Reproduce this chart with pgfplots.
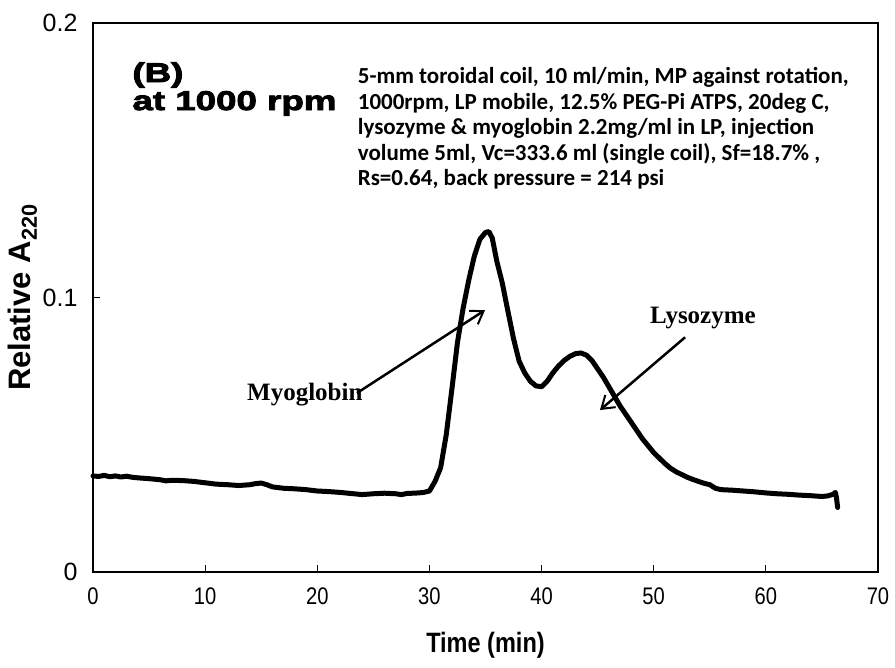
\documentclass[border=0pt]{standalone}
\usepackage{fontspec}
\setmainfont{Liberation Sans}
\newfontfamily\narrowfont{Liberation Sans}[FakeStretch=0.84]
\newfontfamily\calfont{Carlito}
\newfontfamily\timesfont{Liberation Serif}
\newfontfamily\blackfont{Liberation Sans}[BoldFeatures={FakeBold=3.5,FakeStretch=1.36}]
\usepackage{pgfplots}
\pgfplotsset{compat=1.18}
\usetikzlibrary{arrows.meta}
\begin{document}
\begin{tikzpicture}
\useasboundingbox (-93pt,-96pt) rectangle (802pt,572pt);
\begin{axis}[
  scale only axis,
  width=785pt, height=549pt,
  at={(0,0)}, anchor=south west,
  xmin=0, xmax=70, ymin=0, ymax=0.2,
  axis line style={line width=2pt},
  xtick={0,10,20,30,40,50,60,70},
  xticklabels={0,10,20,30,40,50,60,70},
  ytick={0,0.1,0.2},
  yticklabels={0,0.1,0.2},
  xtick pos=bottom, ytick pos=left,
  tick align=inside,
  major tick length=7pt,
  tick style={line width=0.8pt, black},
  xticklabel style={font=\narrowfont\fontsize{24}{28}\selectfont, anchor=north, yshift=-12pt},
  yticklabel style={font=\fontsize{25}{29}\selectfont, anchor=east, xshift=-12pt},
  xlabel={\narrowfont\bfseries Time (min)},
  ylabel={\bfseries Relative A\textsubscript{220}},
  xlabel style={font=\fontsize{28}{32}\selectfont, at={(axis description cs:0.5,-0.133)}, anchor=center},
  ylabel style={font=\fontsize{31}{35}\selectfont, at={(axis description cs:-0.090,0.5)}, anchor=center},
  clip=false,
]
\addplot[black, line width=5pt, line join=round, line cap=round] coordinates {
(0,0.0350) (0.5,0.0348) (1,0.0352) (1.5,0.0347) (2,0.0350) (2.5,0.0346) (3,0.0349) (3.5,0.0345)
(4,0.0343) (5,0.0340) (6,0.0336) (6.5,0.0332) (7,0.0334) (8,0.0333) (9,0.0330) (10,0.0325)
(11,0.0320) (12,0.0318) (13,0.0315) (14,0.0318) (14.5,0.0322) (15,0.0324) (15.5,0.0318)
(16,0.0310) (17,0.0305) (18,0.0303) (19,0.0300) (20,0.0295) (21,0.0293) (22,0.0290)
(23,0.0286) (24,0.0282) (25,0.0285) (26,0.0287) (27,0.0285) (27.5,0.0282) (28,0.0286)
(29,0.0288) (29.5,0.0290) (30,0.0295) (30.5,0.0330) (31,0.0380) (31.5,0.0500) (32,0.0665)
(32.5,0.0836) (33,0.0960) (33.5,0.1062) (34,0.1150) (34.5,0.1212) (35,0.1237) (35.3,0.1240)
(35.6,0.1217) (36,0.1134) (36.5,0.1052) (37,0.0950) (37.5,0.0850) (38,0.0768) (38.5,0.0725)
(39,0.0695) (39.5,0.0678) (40,0.0675) (40.5,0.0695) (41,0.0725) (41.5,0.0750) (42,0.0770)
(42.5,0.0785) (43,0.0795) (43.5,0.0798) (44,0.0790) (44.5,0.0770) (45,0.0740) (45.5,0.0710)
(46,0.0675) (46.5,0.0640) (47,0.0605) (47.5,0.0575) (48,0.0545) (48.5,0.0515) (49,0.0485)
(49.5,0.0460) (50,0.0435) (50.5,0.0415) (51,0.0395) (51.5,0.0378) (52,0.0365) (52.5,0.0355)
(53,0.0345) (53.5,0.0337) (54,0.0330) (54.5,0.0323) (55,0.0318) (55.5,0.0305) (56,0.0300)
(57,0.0298) (58,0.0295) (59,0.0292) (60,0.0288) (61,0.0285) (62,0.0283) (63,0.0280)
(64,0.0278) (65,0.0275) (65.5,0.0277) (66,0.0283) (66.2,0.0290) (66.3,0.0270) (66.4,0.0235)
};
\draw[line width=2.5pt, -{Straight Barb[length=12pt,width=16pt,line width=2pt]}] (axis cs:23.54,0.0652) -- (axis cs:34.96,0.0954);
\draw[line width=2.5pt, -{Straight Barb[length=12pt,width=16pt,line width=2pt]}] (axis cs:52.8,0.0855) -- (axis cs:45.21,0.0590);
\node[font=\timesfont\bfseries\fontsize{25}{29}\selectfont, anchor=base west, inner sep=0pt] at (axis cs:13.73,0.0623) {Myoglobin};
\node[font=\timesfont\bfseries\fontsize{25}{29}\selectfont, anchor=base west, inner sep=0pt] at (axis cs:49.67,0.0907) {Lysozyme};
\node[font=\blackfont\bfseries\fontsize{27}{28}\selectfont, anchor=north west, inner sep=0pt, align=left] at (axis cs:3.5,0.1857) {(B)\\at 1000 rpm};
\node[font=\calfont\bfseries\fontsize{23}{25.5}\selectfont, anchor=north west, inner sep=0pt, align=left] at (axis cs:23.6,0.1839)
{5-mm toroidal coil, 10 ml/min, MP against rotation,\\
1000rpm, LP mobile, 12.5\% PEG-Pi ATPS, 20deg C,\\
lysozyme \& myoglobin 2.2mg/ml in LP, injection\\
volume 5ml, Vc=333.6 ml (single coil), Sf=18.7\% ,\\
Rs=0.64, back pressure = 214 psi};
\end{axis}
\end{tikzpicture}
\end{document}
